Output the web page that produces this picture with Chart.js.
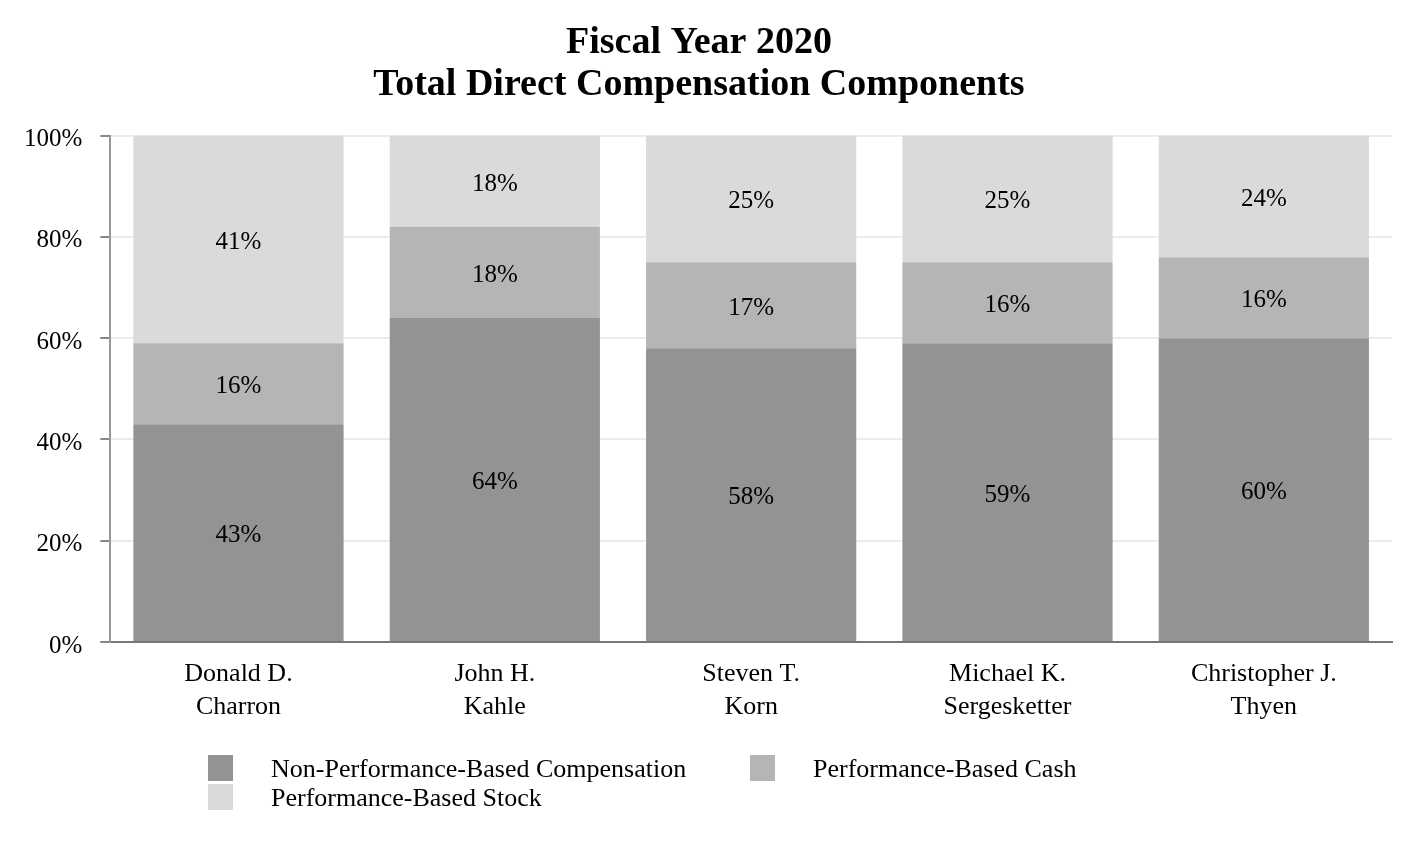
<!DOCTYPE html>
<html>
<head>
<meta charset="utf-8">
<script src="https://cdn.jsdelivr.net/npm/chart.js@4/dist/chart.umd.min.js"></script>
<style>
  html, body { margin: 0; padding: 0; background: #fff; }
  #wrap { width: 1412px; height: 842px; }
</style>
</head>
<body>
<div id="wrap"><canvas id="myChart" width="1412" height="842"></canvas></div>
<script>
// names (two lines each)
var executives = [
  ['Donald D.', 'Charron'],
  ['John H.', 'Kahle'],
  ['Steven T.', 'Korn'],
  ['Michael K.', 'Sergesketter'],
  ['Christopher J.', 'Thyen']
];
var nonPerformance = [43, 64, 58, 59, 60];
var performanceCash = [16, 18, 17, 16, 16];
var performanceStock = [41, 18, 25, 25, 24];
var yTicks = [0, 20, 40, 60, 80, 100];

var serif = '"Liberation Serif", "Times New Roman", serif';

// writes the percent inside each bar segment
var segmentLabels = {
  id: 'segmentLabels',
  afterDatasetsDraw: function (chart) {
    var ctx = chart.ctx;
    ctx.save();
    ctx.font = '25px ' + serif;
    ctx.fillStyle = '#000';
    ctx.textAlign = 'center';
    ctx.textBaseline = 'middle';
    chart.data.datasets.forEach(function (ds, i) {
      chart.getDatasetMeta(i).data.forEach(function (bar, j) {
        var mid = (bar.y + bar.base) / 2 + 3;
        ctx.fillText(ds.data[j] + '%', bar.x, mid);
      });
    });
    ctx.restore();
  }
};

// legend laid out like the original: two columns, wrapping
var bottomLegend = {
  id: 'bottomLegend',
  afterDraw: function (chart) {
    var ctx = chart.ctx;
    var cols = [208, 750];
    var top = 755;
    ctx.save();
    ctx.font = '26px ' + serif;
    ctx.textBaseline = 'middle';
    ctx.textAlign = 'left';
    chart.data.datasets.forEach(function (ds, i) {
      var x = cols[i % 2];
      var y = top + Math.floor(i / 2) * 29;
      ctx.fillStyle = ds.backgroundColor;
      ctx.fillRect(x, y, 25, 26);
      ctx.fillStyle = '#000';
      ctx.fillText(ds.label, x + 63, y + 15);
    });
    ctx.restore();
  }
};

var ctx = document.getElementById('myChart');
var myChart = new Chart(ctx, {
  type: 'bar',
  data: {
    labels: executives,
    datasets: [{
      label: 'Non-Performance-Based Compensation',
      data: nonPerformance,
      backgroundColor: '#939393'
    }, {
      label: 'Performance-Based Cash',
      data: performanceCash,
      backgroundColor: '#b5b5b5'
    }, {
      label: 'Performance-Based Stock',
      data: performanceStock,
      backgroundColor: '#dadada'
    }]
  },
  plugins: [segmentLabels, bottomLegend],
  options: {
    responsive: false,
    animation: false,
    barPercentage: 0.82,
    categoryPercentage: 1,
    layout: {
      padding: { left: 6, right: 20, top: 14, bottom: 110 }
    },
    plugins: {
      legend: { display: false },
      tooltip: { enabled: false },
      title: {
        display: true,
        text: ['Fiscal Year 2020', 'Total Direct Compensation Components'],
        color: '#000',
        font: { family: serif, size: 38, weight: 'bold', lineHeight: 1.1 },
        padding: { top: 8, bottom: 30 }
      }
    },
    scales: {
      x: {
        stacked: true,
        grid: { display: false },
        border: { color: '#777', width: 2 },
        ticks: {
          color: '#000',
          font: { family: serif, size: 26, lineHeight: 1.27 },
          padding: 8,
          maxRotation: 0
        }
      },
      y: {
        stacked: true,
        min: 0,
        max: 100,
        afterBuildTicks: function (scale) {
          scale.ticks = yTicks.map(function (v) { return { value: v }; });
        },
        grid: {
          color: '#ececec',
          lineWidth: 2,
          tickColor: '#888',
          tickLength: 10
        },
        border: { color: '#999', width: 2 },
        ticks: {
          color: '#000',
          font: { family: serif, size: 25 },
          padding: 18,
          labelOffset: 4,
          callback: function (v) { return v + '%'; }
        }
      }
    }
  }
});
</script>
</body>
</html>
